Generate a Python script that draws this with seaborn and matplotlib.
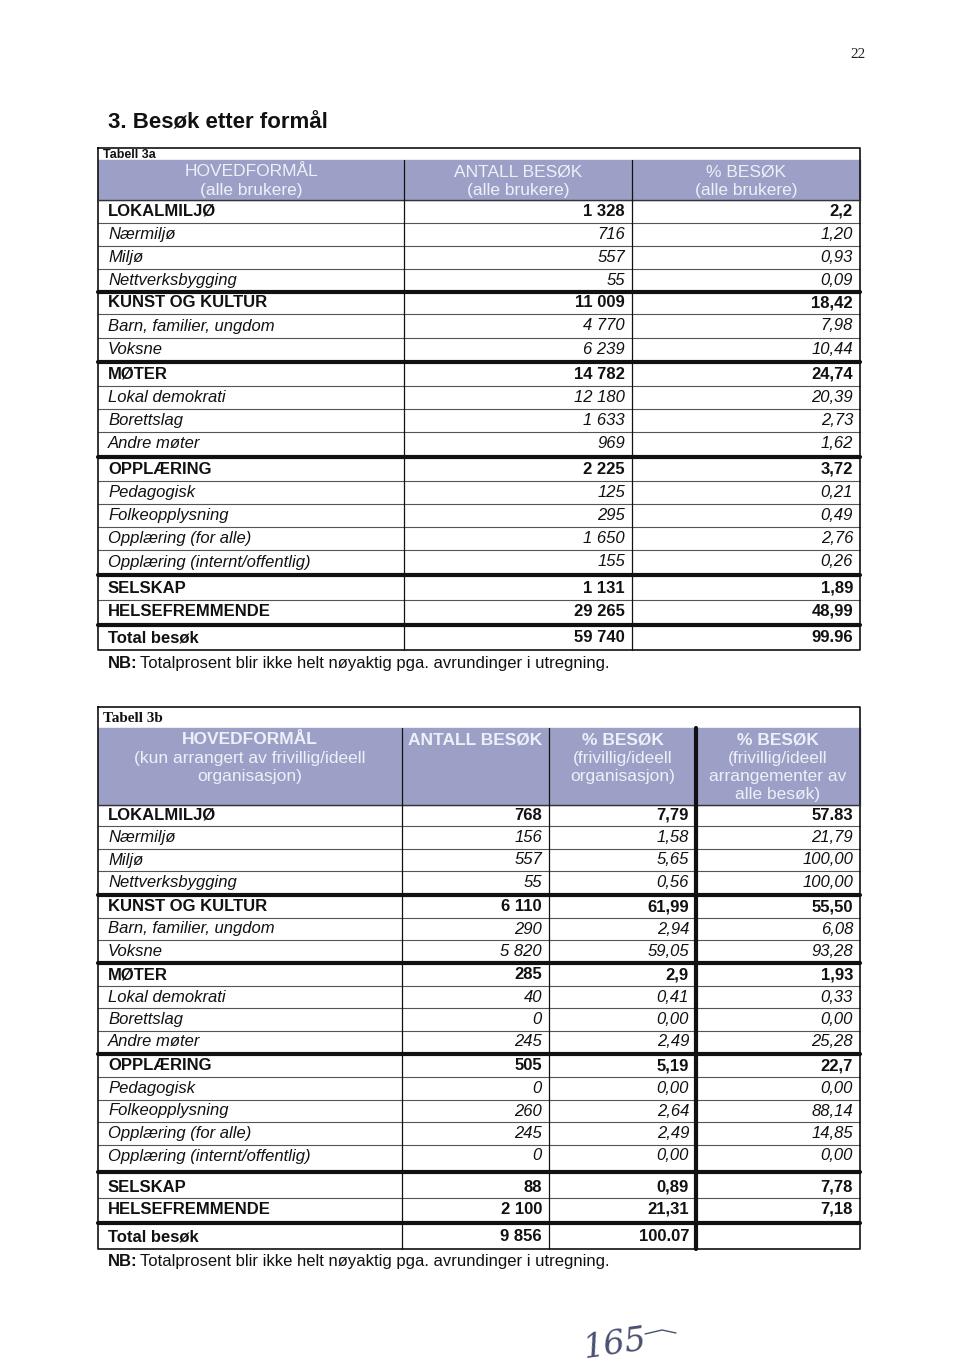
import matplotlib
matplotlib.use("Agg")
import matplotlib.pyplot as plt
import seaborn as sns

sns.set_theme(style="white")
plt.rcParams["font.family"] = ["Liberation Sans", "DejaVu Sans"]

# ---- data ----
labels = ["LOKALMILJØ", "Nærmiljø", "Miljø", "Nettverksbygging",
          "KUNST OG KULTUR", "Barn, familier, ungdom", "Voksne",
          "MØTER", "Lokal demokrati", "Borettslag", "Andre møter",
          "OPPLÆRING", "Pedagogisk", "Folkeopplysning", "Opplæring (for alle)",
          "Opplæring (internt/offentlig)",
          "SELSKAP", "HELSEFREMMENDE", "Total besøk"]
is_main = [1, 0, 0, 0, 1, 0, 0, 1, 0, 0, 0, 1, 0, 0, 0, 0, 1, 1, 1]
# rows after which a thick rule is drawn
group_breaks = [3, 6, 10, 15, 17]

antall_3a = ["1 328", "716", "557", "55", "11 009", "4 770", "6 239",
             "14 782", "12 180", "1 633", "969", "2 225", "125", "295",
             "1 650", "155", "1 131", "29 265", "59 740"]
pst_3a = ["2,2", "1,20", "0,93", "0,09", "18,42", "7,98", "10,44",
          "24,74", "20,39", "2,73", "1,62", "3,72", "0,21", "0,49",
          "2,76", "0,26", "1,89", "48,99", "99.96"]

antall_3b = ["768", "156", "557", "55", "6 110", "290", "5 820",
             "285", "40", "0", "245", "505", "0", "260", "245", "0",
             "88", "2 100", "9 856"]
pst_3b = ["7,79", "1,58", "5,65", "0,56", "61,99", "2,94", "59,05",
          "2,9", "0,41", "0,00", "2,49", "5,19", "0,00", "2,64", "2,49",
          "0,00", "0,89", "21,31", "100.07"]
pst_all_3b = ["57.83", "21,79", "100,00", "100,00", "55,50", "6,08", "93,28",
              "1,93", "0,33", "0,00", "25,28", "22,7", "0,00", "88,14",
              "14,85", "0,00", "7,78", "7,18", ""]

head_3a = [["HOVEDFORMÅL", "(alle brukere)"],
           ["ANTALL BESØK", "(alle brukere)"],
           ["% BESØK", "(alle brukere)"]]
head_3b = [["HOVEDFORMÅL", "(kun arrangert av frivillig/ideell", "organisasjon)"],
           ["ANTALL BESØK"],
           ["% BESØK", "(frivillig/ideell", "organisasjon)"],
           ["% BESØK", "(frivillig/ideell", "arrangementer av", "alle besøk)"]]

nb_text = "Totalprosent blir ikke helt nøyaktig pga. avrundinger i utregning."

# ---- page ----
fig = plt.figure(figsize=(9.6, 13.68), dpi=100)
ax = fig.add_axes([0, 0, 1, 1])
ax.set_xlim(0, 960)
ax.set_ylim(1368, 0)
ax.axis("off")
fig.patch.set_facecolor("white")

band = "#9ca0c6"
band_txt = "#eef0f8"
fs = 12

ax.text(858, 55, "22", fontsize=11, family="Liberation Serif", ha="center", va="center", color="#222")
ax.text(108, 123, "3. Besøk etter formål", fontsize=16, weight="bold",
        ha="left", va="center", color="#111")


def row_positions(y0, h, gaps):
    ys, y, g = [], y0, 0
    for i in range(len(labels)):
        ys.append(y)
        extra = 0
        if i in group_breaks:
            extra = gaps[g]
            g += 1
        y += h + extra
    return ys


def draw_table(top, band_top, band_bot, cols, heads, head_ys, head_bold,
               values, ys, h, thick_cols, title, title_font, title_fs):
    left, right = cols[0], cols[-1]
    bottom = ys[-1] + h / 2 + 1
    # header band
    ax.fill_between([left, right], band_top, band_bot, color=band, zorder=1)
    ax.text(left + 5, (top + band_top) / 2 + 1, title, fontsize=title_fs,
            weight="bold", family=title_font, ha="left", va="center", color="#111")
    for c, lines in enumerate(heads):
        cx = (cols[c] + cols[c + 1]) / 2
        for k, t in enumerate(lines):
            ax.text(cx, head_ys[k], t, fontsize=12.5, ha="center", va="center",
                    color=band_txt, weight="bold" if (k == 0 and head_bold) else "normal", zorder=3)
    # rows
    for i, lab in enumerate(labels):
        y = ys[i]
        wt = "bold" if is_main[i] else "normal"
        st = "normal" if is_main[i] else "italic"
        ax.text(left + 10, y, lab, fontsize=fs, weight=wt, style=st,
                ha="left", va="center", color="#111")
        for c, col in enumerate(values):
            ax.text(cols[c + 2] - 7, y, col[i], fontsize=fs, weight=wt, style=st,
                    ha="right", va="center", color="#111")
        if i < len(labels) - 1:
            ny = ys[i + 1]
            ly = (y + ny) / 2
            if i in group_breaks:
                ax.plot([left, right], [ly, ly], color="#111", lw=3, zorder=4)
            else:
                ax.plot([left, right], [ly, ly], color="#555", lw=0.8, zorder=2)
    # frame and column rules
    ax.plot([left, right, right, left, left], [top, top, bottom, bottom, top],
            color="#111", lw=1.2, zorder=4)
    ax.plot([left, right], [band_bot, band_bot], color="#333", lw=1, zorder=4)
    for c in cols[1:-1]:
        lw = 3 if c in thick_cols else 0.9
        ax.plot([c, c], [band_top, bottom], color="#111", lw=lw, zorder=4)
    # note
    ax.text(108, bottom + 13, "NB:", fontsize=fs, weight="bold", ha="left", va="center", color="#111")
    ax.text(140, bottom + 13, nb_text, fontsize=fs, ha="left", va="center", color="#111")


ys_a = row_positions(211, 23.2, [-1, 2, 2, 3, 3])
draw_table(148, 160, 200, [98, 404, 632, 860], head_3a, [172, 190], False,
           [antall_3a, pst_3a], ys_a, 23.2, [], "Tabell 3a", "Liberation Sans", 9)

ys_b = row_positions(815, 22.5, [1.5, 0.5, 1.5, 8.5, 4.5])
draw_table(707, 728, 805, [98, 402, 549, 696, 860], head_3b, [740, 758, 776, 795], True,
           [antall_3b, pst_3b, pst_all_3b], ys_b, 22.5, [696], "Tabell 3b", "Liberation Serif", 11)

# handwritten page mark
ax.text(615, 1345, "165", fontsize=24, style="italic", family="DejaVu Serif",
        ha="center", va="center", color="#4a5070", rotation=8)
ax.plot([645, 662, 676], [1334, 1330, 1333], color="#4a5070", lw=1)

fig.savefig("out.png", dpi=100, facecolor="white")
